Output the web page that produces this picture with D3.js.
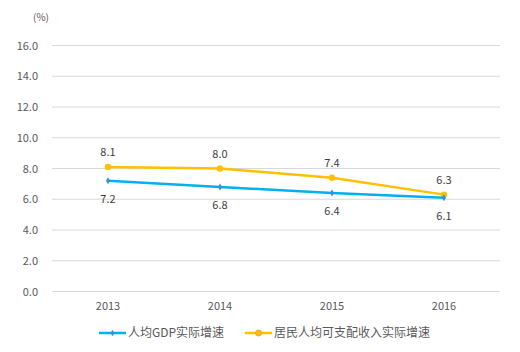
<!DOCTYPE html>
<html>
<head>
<meta charset="utf-8">
<script src="https://cdn.jsdelivr.net/npm/d3@7"></script>
<style>
  body { margin: 0; background: #fff; }
  text { font-family: "Microsoft YaHei", "Noto Sans CJK SC", "Open Sans", sans-serif; }
</style>
</head>
<body>
<svg width="520" height="352"></svg>
<script>
// data
var years = ["2013", "2014", "2015", "2016"];
var gdpGrowth = [7.2, 6.8, 6.4, 6.1];
var incomeGrowth = [8.1, 8.0, 7.4, 6.3];
var yTicks = [0, 2, 4, 6, 8, 10, 12, 14, 16];
var seriesNames = ["人均GDP实际增速", "居民人均可支配收入实际增速"];

var svg = d3.select("svg"),
    margin = {top: 45.5, right: 20, bottom: 60.5, left: 52},
    width = +svg.attr("width") - margin.left - margin.right,
    height = +svg.attr("height") - margin.top - margin.bottom;

var x = d3.scaleBand().domain(years).range([0, width]),
    y = d3.scaleLinear().domain([0, 16]).range([height, 0]);

var g = svg.append("g")
    .attr("transform", "translate(" + margin.left + "," + margin.top + ")");

// gridlines
g.selectAll(".grid")
  .data(yTicks)
  .enter().append("line")
    .attr("x1", 0).attr("x2", width)
    .attr("y1", function(d) { return y(d); })
    .attr("y2", function(d) { return y(d); })
    .attr("stroke", "#d9d9d9")
    .attr("stroke-width", 1);

// y axis labels
var yAxis = g.append("g")
    .call(d3.axisLeft(y).tickValues(yTicks).tickFormat(d3.format(".1f")).tickSize(0).tickPadding(14));
yAxis.select(".domain").remove();
yAxis.selectAll("text").attr("fill", "#595959").style("font-size", "11px");

// x axis labels
var xAxis = g.append("g")
    .attr("transform", "translate(0," + height + ")")
    .call(d3.axisBottom(x).tickSize(0).tickPadding(11));
xAxis.select(".domain").remove();
xAxis.selectAll("text").attr("fill", "#595959").style("font-size", "11px");

// unit
svg.append("text")
    .attr("x", 41).attr("y", 21)
    .attr("text-anchor", "middle")
    .attr("fill", "#595959")
    .style("font-size", "10px")
    .text("(%)");

var line = d3.line()
    .x(function(d, i) { return x(years[i]) + x.bandwidth() / 2; })
    .y(function(d) { return y(d); });

var blue = "#00b0f0", orange = "#ffc000";

// income line
g.append("path")
    .datum(incomeGrowth)
    .attr("fill", "none")
    .attr("stroke", orange)
    .attr("stroke-width", 2.5)
    .attr("d", line);
g.selectAll(".inc-pt")
  .data(incomeGrowth)
  .enter().append("circle")
    .attr("cx", function(d, i) { return x(years[i]) + x.bandwidth() / 2; })
    .attr("cy", function(d) { return y(d); })
    .attr("r", 3.2)
    .attr("fill", orange);
g.selectAll(".inc-lbl")
  .data(incomeGrowth)
  .enter().append("text")
    .attr("x", function(d, i) { return x(years[i]) + x.bandwidth() / 2; })
    .attr("y", function(d) { return y(d) - 11; })
    .attr("text-anchor", "middle")
    .attr("fill", "#404040")
    .style("font-size", "11px")
    .text(function(d) { return d.toFixed(1); });

// gdp line
g.append("path")
    .datum(gdpGrowth)
    .attr("fill", "none")
    .attr("stroke", blue)
    .attr("stroke-width", 2.5)
    .attr("d", line);
g.selectAll(".gdp-pt")
  .data(gdpGrowth)
  .enter().append("path")
    .attr("transform", function(d, i) {
      return "translate(" + (x(years[i]) + x.bandwidth() / 2) + "," + y(d) + ")";
    })
    .attr("d", d3.symbol().type(d3.symbolDiamond).size(14))
    .attr("fill", "#3a8fd6");
g.selectAll(".gdp-lbl")
  .data(gdpGrowth)
  .enter().append("text")
    .attr("x", function(d, i) { return x(years[i]) + x.bandwidth() / 2; })
    .attr("y", function(d) { return y(d) + 22; })
    .attr("text-anchor", "middle")
    .attr("fill", "#404040")
    .style("font-size", "11px")
    .text(function(d) { return d.toFixed(1); });

// legend
var legend = svg.append("g").attr("transform", "translate(0,333)");
var legendItems = [
  {name: seriesNames[0], color: blue, x: 99},
  {name: seriesNames[1], color: orange, x: 245}
];
legendItems.forEach(function(item, i) {
  legend.append("line")
      .attr("x1", item.x).attr("x2", item.x + 27)
      .attr("y1", 0).attr("y2", 0)
      .attr("stroke", item.color)
      .attr("stroke-width", 2.5);
  if (i === 0) {
    legend.append("path")
        .attr("transform", "translate(" + (item.x + 13.5) + ",0)")
        .attr("d", d3.symbol().type(d3.symbolDiamond).size(12))
        .attr("fill", "#3a8fd6");
  } else {
    legend.append("circle")
        .attr("cx", item.x + 13.5).attr("cy", 0).attr("r", 3)
        .attr("fill", orange).attr("stroke", "#f0a030");
  }
  legend.append("text")
      .attr("x", item.x + 29).attr("y", 4)
      .attr("fill", "#595959")
      .style("font-size", "12px")
      .text(item.name);
});
</script>
</body>
</html>
